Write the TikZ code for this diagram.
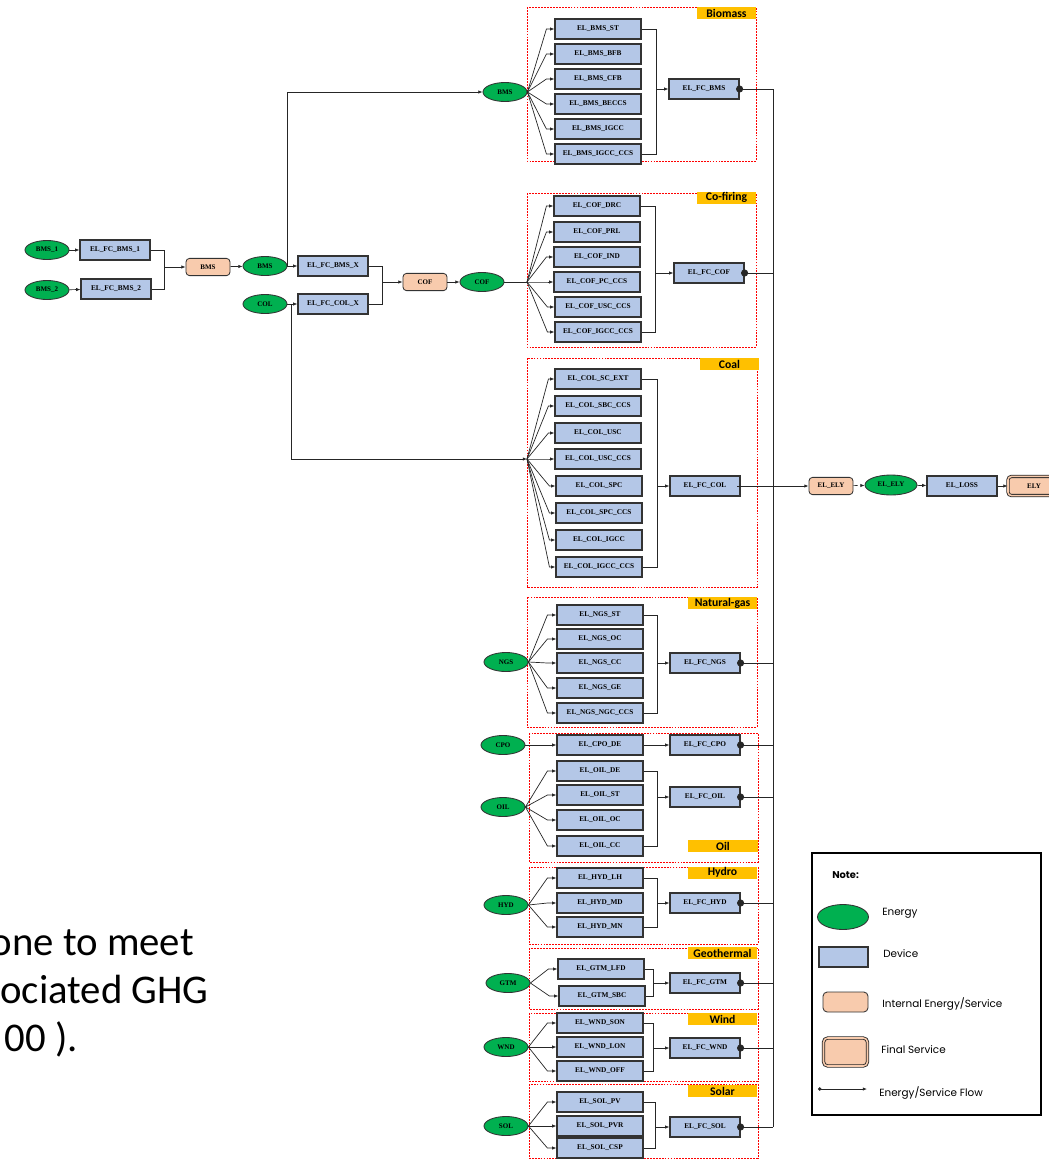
\documentclass[tikz,border=0pt]{standalone}
\usepackage{fontspec}
\setmainfont{Liberation Serif}
\newfontfamily\calibrifont{Carlito}
\newfontfamily\notefont{Poppins}
\usetikzlibrary{shapes.geometric,arrows.meta,calc}

\definecolor{nrggreen}{HTML}{00B050}
\definecolor{devblue}{HTML}{B4C7E7}
\definecolor{peach}{HTML}{F8CBAD}
\definecolor{tagorange}{HTML}{FFC000}
\definecolor{grpred}{HTML}{FF0000}

\tikzset{
  dev/.style={rectangle, draw=black!80, line width=0.8pt, fill=devblue, minimum width=2.15cm,
    minimum height=0.5cm, inner sep=0pt, font=\fontsize{5.2}{6}\selectfont\bfseries},
  fcdev/.style={dev, minimum width=1.75cm},
  nrg/.style={ellipse, draw=black!80, line width=0.6pt, fill=nrggreen, minimum width=1.1cm,
    minimum height=0.475cm, inner sep=0pt, font=\fontsize{5}{6}\selectfont\bfseries},
  intl/.style={rectangle, rounded corners=2.5pt, draw=black!80, line width=0.6pt, fill=peach,
    minimum width=1.1cm, minimum height=0.43cm, inner sep=0pt, font=\fontsize{5}{6}\selectfont\bfseries},
  finalsvc/.style={intl, draw=black!85, double=peach, double distance=1.1pt, line width=0.6pt},
  grp/.style={draw=grpred, line width=0.7pt, dash pattern=on 1.3pt off 0.8pt},
  grptag/.style={rectangle, fill=tagorange, minimum width=1.725cm, minimum height=0.3cm, inner sep=0pt,
    font=\calibrifont\fontsize{8.3}{9}\selectfont\bfseries},
  flow/.style={-{Latex[length=3pt,width=2.4pt]}, line width=0.5pt, draw=black!85},
  link/.style={line width=0.5pt, draw=black!85},
  fcout/.style={{Circle[length=5pt]}-, shorten <=-2.5pt, line width=0.6pt, draw=black!85},
  legtext/.style={anchor=west, inner sep=0pt, font=\notefont\fontsize{7.4}{8}\selectfont}
}

\begin{document}
\begin{tikzpicture}[x=0.025cm,y=-0.025cm]
  \useasboundingbox (0,0) rectangle (1048,1160);

  % slide text at the left edge
  \node (txt-1) [anchor=base east, inner sep=0pt, font=\calibrifont\fontsize{29}{35}\selectfont] at (194,955) {one to meet};
  \node (txt-2) [anchor=base east, inner sep=0pt, font=\calibrifont\fontsize{29}{35}\selectfont] at (209,1003) {ociated GHG};
  \node (txt-3) [anchor=base east, inner sep=0pt, font=\calibrifont\fontsize{29}{35}\selectfont] at (78,1051) {00 ).};

  % biomass and coal feeds
  \node (bms-1) [nrg] at (47,250) {BMS\_1};
  \node (fc-bms-1) [fcdev] at (115,250) {EL\_FC\_BMS\_1};
  \node (bms-2) [nrg] at (47,290) {BMS\_2};
  \node (fc-bms-2) [fcdev] at (116,289) {EL\_FC\_BMS\_2};
  \node (bms-i) [intl] at (208,267) {BMS};
  \node (bms-m) [nrg] at (265,266) {BMS};
  \node (col-m) [nrg] at (265,304) {COL};
  \node (fc-bms-x) [fcdev] at (333,266) {EL\_FC\_BMS\_X};
  \node (fc-col-x) [fcdev] at (333,304) {EL\_FC\_COL\_X};
  \node (cof-i) [intl] at (425,282) {COF};
  \node (cof-m) [nrg] at (482,282) {COF};
  \coordinate (j-bms) at (164,267);
  \coordinate (j-cof) at (382,282);
  \coordinate (cof-fan) at (527,282);
  \coordinate (col-fan) at (527,459);

  \draw[flow] (bms-1) -- (fc-bms-1);
  \draw[flow] (bms-2) -- (fc-bms-2);
  \draw[link] (fc-bms-1.east) -| (j-bms);
  \draw[link] (fc-bms-2.east) -| (j-bms);
  \draw[flow] (j-bms) -- (bms-i.west);
  \draw[flow] (bms-i) -- (bms-m);
  \draw[flow] (bms-m) -- (fc-bms-x);
  \draw[flow] (col-m) -- (fc-col-x);
  \draw[link] (fc-bms-x.east) -| (j-cof);
  \draw[link] (fc-col-x.east) -| (j-cof);
  \draw[flow] (j-cof) -- (cof-i.west);
  \draw[flow] (cof-i) -- (cof-m);
  \draw[link] (cof-m.east) -- (cof-fan);
  \draw[flow] (col-m.east) -- ++(4,0) |- (col-fan);

  % Biomass
  \draw[grp] (527,7) rectangle (756,161);
  \node (tag-bms) [grptag, minimum width=1.475cm] at (726.5,13) {Biomass};
  \node (bms-b) [nrg] at (505,92) {BMS};
  \node (bms-st) [dev] at (598,29) {EL\_BMS\_ST};
  \node (bms-bfb) [dev] at (598,54) {EL\_BMS\_BFB};
  \node (bms-cfb) [dev] at (598,79) {EL\_BMS\_CFB};
  \node (bms-beccs) [dev] at (598,104) {EL\_BMS\_BECCS};
  \node (bms-igcc) [dev] at (598,129) {EL\_BMS\_IGCC};
  \node (bms-igcc-ccs) [dev] at (598,154) {EL\_BMS\_IGCC\_CCS};
  \node (fc-bms) [fcdev] at (704,89) {EL\_FC\_BMS};
  \coordinate (c-bms) at (656,29);
  \draw[flow] (bms-m.east) |- (bms-b.west);
  \foreach \n in {bms-st,bms-bfb,bms-cfb,bms-beccs,bms-igcc,bms-igcc-ccs}
    \draw[flow] (bms-b.east) -- ($(\n.west)+(-8,0)$) -- (\n.west);
  \draw[link] (bms-st.east) -- (c-bms) |- (bms-igcc-ccs.east);
  \draw[flow] (c-bms |- fc-bms.west) -- (fc-bms.west);

  % Co-firing
  \draw[grp] (527,193) rectangle (756,347);
  \node (tag-cof) [grptag, minimum width=1.475cm] at (726.5,197.5) {Co-firing};
  \node (cof-drc) [dev] at (597,206) {EL\_COF\_DRC};
  \node (cof-prl) [dev] at (597,232) {EL\_COF\_PRL};
  \node (cof-ind) [dev] at (597,257) {EL\_COF\_IND};
  \node (cof-pc-ccs) [dev] at (597,282) {EL\_COF\_PC\_CCS};
  \node (cof-usc-ccs) [dev] at (598,307) {EL\_COF\_USC\_CCS};
  \node (cof-igcc-ccs) [dev] at (598,332) {EL\_COF\_IGCC\_CCS};
  \node (fc-cof) [fcdev] at (709,273) {EL\_FC\_COF};
  \coordinate (c-cof) at (655,206);
  \foreach \n in {cof-drc,cof-prl,cof-ind,cof-pc-ccs,cof-usc-ccs,cof-igcc-ccs}
    \draw[flow] (cof-fan) -- ($(\n.west)+(-7,0)$) -- (\n.west);
  \draw[link] (cof-drc.east) -- (c-cof) |- (cof-igcc-ccs.east);
  \draw[flow] (c-cof |- fc-cof.west) -- (fc-cof.west);

  % Coal
  \draw[grp] (527,358) rectangle (757,587);
  \node (tag-col) [grptag, minimum width=1.475cm] at (729.5,364) {Coal};
  \node (col-sc-ext) [dev] at (598,379) {EL\_COL\_SC\_EXT};
  \node (col-sbc-ccs) [dev] at (598,406) {EL\_COL\_SBC\_CCS};
  \node (col-usc) [dev] at (598,433) {EL\_COL\_USC};
  \node (col-usc-ccs) [dev] at (598,459) {EL\_COL\_USC\_CCS};
  \node (col-spc) [dev] at (599,486) {EL\_COL\_SPC};
  \node (col-spc-ccs) [dev] at (599,513) {EL\_COL\_SPC\_CCS};
  \node (col-igcc) [dev] at (599,540) {EL\_COL\_IGCC};
  \node (col-igcc-ccs) [dev] at (599,567) {EL\_COL\_IGCC\_CCS};
  \node (fc-col) [fcdev] at (705,486) {EL\_FC\_COL};
  \coordinate (c-col) at (657,379);
  \foreach \n in {col-sc-ext,col-sbc-ccs,col-usc,col-usc-ccs,col-spc,col-spc-ccs,col-igcc,col-igcc-ccs}
    \draw[flow] (col-fan) -- ($(\n.west)+(-6,0)$) -- (\n.west);
  \draw[link] (col-sc-ext.east) -- (c-col) |- (col-igcc-ccs.east);
  \draw[flow] (c-col |- fc-col.west) -- (fc-col.west);

  % Natural-gas
  \draw[grp] (527,597) rectangle (757,727);
  \node (tag-ngs) [grptag] at (722.5,603) {Natural-gas};
  \node (ngs) [nrg] at (506,662) {NGS};
  \node (ngs-st) [dev] at (600,615) {EL\_NGS\_ST};
  \node (ngs-oc) [dev] at (600,639) {EL\_NGS\_OC};
  \node (ngs-cc) [dev] at (600,663) {EL\_NGS\_CC};
  \node (ngs-ge) [dev] at (600,688) {EL\_NGS\_GE};
  \node (ngs-ngc-ccs) [dev] at (600,713) {EL\_NGS\_NGC\_CCS};
  \node (fc-ngs) [fcdev] at (705,663) {EL\_FC\_NGS};
  \coordinate (c-ngs) at (657,615);
  \foreach \n in {ngs-st,ngs-oc,ngs-cc,ngs-ge,ngs-ngc-ccs}
    \draw[flow] (ngs.east) -- ($(\n.west)+(-9,0)$) -- (\n.west);
  \draw[link] (ngs-st.east) -- (c-ngs) |- (ngs-ngc-ccs.east);
  \draw[flow] (c-ngs |- fc-ngs.west) -- (fc-ngs.west);

  % Oil
  \draw[grp] (529,733) rectangle (758,862);
  \node (tag-oil) [grptag] at (723,846) {Oil};
  \node (cpo) [nrg] at (503,745) {CPO};
  \node (cpo-de) [dev] at (600,745) {EL\_CPO\_DE};
  \node (fc-cpo) [fcdev] at (705,745) {EL\_FC\_CPO};
  \draw[flow] (cpo) -- (cpo-de);
  \draw[flow] (cpo-de) -- (fc-cpo);
  \node (oil) [nrg] at (503,807) {OIL};
  \node (oil-de) [dev] at (600,771) {EL\_OIL\_DE};
  \node (oil-st) [dev] at (600,795) {EL\_OIL\_ST};
  \node (oil-oc) [dev] at (600,820) {EL\_OIL\_OC};
  \node (oil-cc) [dev] at (600,846) {EL\_OIL\_CC};
  \node (fc-oil) [fcdev] at (705,797) {EL\_FC\_OIL};
  \coordinate (c-oil) at (657,771);
  \foreach \n in {oil-de,oil-st,oil-oc,oil-cc}
    \draw[flow] (oil.east) -- ($(\n.west)+(-9,0)$) -- (\n.west);
  \draw[link] (oil-de.east) -- (c-oil) |- (oil-cc.east);
  \draw[flow] (c-oil |- fc-oil.west) -- (fc-oil.west);

  % Hydro
  \draw[grp] (529,867) rectangle (758,944);
  \node (tag-hyd) [grptag] at (722.5,872.5) {Hydro};
  \node (hyd) [nrg] at (506,905) {HYD};
  \node (hyd-lh) [dev] at (600,878) {EL\_HYD\_LH};
  \node (hyd-md) [dev] at (600,903) {EL\_HYD\_MD};
  \node (hyd-mn) [dev] at (600,927) {EL\_HYD\_MN};
  \node (fc-hyd) [fcdev] at (705,903) {EL\_FC\_HYD};
  \coordinate (c-hyd) at (657,878);
  \foreach \n in {hyd-lh,hyd-md,hyd-mn}
    \draw[flow] (hyd.east) -- ($(\n.west)+(-9,0)$) -- (\n.west);
  \draw[link] (hyd-lh.east) -- (c-hyd) |- (hyd-mn.east);
  \draw[flow] (c-hyd |- fc-hyd.west) -- (fc-hyd.west);

  % Geothermal
  \draw[grp] (529,948) rectangle (758,1009);
  \node (tag-gtm) [grptag] at (722.5,953) {Geothermal};
  \node (gtm) [nrg] at (508,983) {GTM};
  \node (gtm-lfd) [dev] at (601,969) {EL\_GTM\_LFD};
  \node (gtm-sbc) [dev] at (602,996) {EL\_GTM\_SBC};
  \node (fc-gtm) [fcdev] at (705,983) {EL\_FC\_GTM};
  \coordinate (c-gtm) at (653,969);
  \foreach \n in {gtm-lfd,gtm-sbc}
    \draw[flow] (gtm.east) -- ($(\n.west)+(-9,0)$) -- (\n.west);
  \draw[link] (gtm-lfd.east) -- (c-gtm) |- (gtm-sbc.east);
  \draw[flow] (c-gtm |- fc-gtm.west) -- (fc-gtm.west);

  % Wind
  \draw[grp] (529,1013) rectangle (758,1081);
  \node (tag-wnd) [grptag] at (722.5,1019) {Wind};
  \node (wnd) [nrg] at (506,1047) {WND};
  \node (wnd-son) [dev] at (600,1023) {EL\_WND\_SON};
  \node (wnd-lon) [dev] at (600,1047) {EL\_WND\_LON};
  \node (wnd-off) [dev] at (600,1071) {EL\_WND\_OFF};
  \node (fc-wnd) [fcdev] at (705,1048) {EL\_FC\_WND};
  \coordinate (c-wnd) at (653,1023);
  \foreach \n in {wnd-son,wnd-lon,wnd-off}
    \draw[flow] (wnd.east) -- ($(\n.west)+(-9,0)$) -- (\n.west);
  \draw[link] (wnd-son.east) -- (c-wnd) |- (wnd-off.east);
  \draw[flow] (c-wnd |- fc-wnd.west) -- (fc-wnd.west);

  % Solar
  \draw[grp] (529,1084) rectangle (758,1158);
  \node (tag-sol) [grptag] at (722.5,1091) {Solar};
  \node (sol) [nrg] at (506,1126) {SOL};
  \node (sol-pv) [dev] at (600,1102) {EL\_SOL\_PV};
  \node (sol-pvr) [dev] at (600,1126) {EL\_SOL\_PVR};
  \node (sol-csp) [dev] at (600,1148) {EL\_SOL\_CSP};
  \node (fc-sol) [fcdev] at (705,1127) {EL\_FC\_SOL};
  \coordinate (c-sol) at (655,1102);
  \foreach \n in {sol-pv,sol-pvr,sol-csp}
    \draw[flow] (sol.east) -- ($(\n.west)+(-9,0)$) -- (\n.west);
  \draw[link] (sol-pv.east) -- (c-sol) |- (sol-csp.east);
  \draw[flow] (c-sol |- fc-sol.west) -- (fc-sol.west);

  % electricity bus
  \node (el-ely) [intl] at (831,486) {EL\_ELY};
  \node (ely-n) [nrg, minimum width=1.3cm, minimum height=0.5cm] at (891,485) {EL\_ELY};
  \node (el-loss) [fcdev] at (962,486) {EL\_LOSS};
  \node (ely) [finalsvc, minimum width=1.3cm, minimum height=0.48cm] at (1034,486) {ELY};
  \coordinate (bus-top) at (773,89);
  \coordinate (bus-bot) at (773,1127);
  \draw[link] (bus-top) -- (bus-bot);
  \foreach \n in {fc-bms,fc-cof,fc-ngs,fc-cpo,fc-oil,fc-hyd,fc-gtm,fc-wnd,fc-sol}
    \draw[fcout] (\n.east) -- (\n.east -| bus-top);
  \draw[fcout, -{Latex[length=3pt,width=2.4pt]}] (fc-col.east) -- (el-ely.west);
  \draw[flow, dashed] (el-ely) -- (ely-n);
  \draw[flow] (ely-n) -- (el-loss);
  \draw[flow] (el-loss) -- (ely);

  % legend
  \draw[line width=1.1pt] (812,853) rectangle (1041,1115);
  \node (note) [anchor=west, inner sep=0pt, font=\notefont\fontsize{7}{8}\selectfont\bfseries] at (832,875) {Note:};
  \node (leg-nrg) [nrg, minimum width=1.275cm, minimum height=0.625cm] at (843,917) {};
  \node (leg-nrg-t) [legtext] at (882,913) {Energy};
  \node (leg-dev) [dev, minimum width=1.225cm, minimum height=0.5cm] at (843.5,957) {};
  \node (leg-dev-t) [legtext] at (883,954) {Device};
  \node (leg-int) [intl, minimum width=1.125cm, minimum height=0.5cm, rounded corners=3pt] at (845.5,1002) {};
  \node (leg-int-t) [legtext] at (882,1004) {Internal Energy/Service};
  \node (leg-fin) [finalsvc, minimum width=1.1cm, minimum height=0.7cm, rounded corners=3pt] at (845.5,1052) {};
  \node (leg-fin-t) [legtext] at (881,1050) {Final Service};
  \coordinate (leg-a) at (818,1089);
  \coordinate (leg-b) at (867,1089);
  \draw[flow, {Circle[length=2.4pt]}-{Latex[length=3pt,width=2.4pt]}] (leg-a) -- (leg-b);
  \node (leg-flow-t) [legtext] at (879,1093) {Energy/Service Flow};
\end{tikzpicture}
\end{document}
